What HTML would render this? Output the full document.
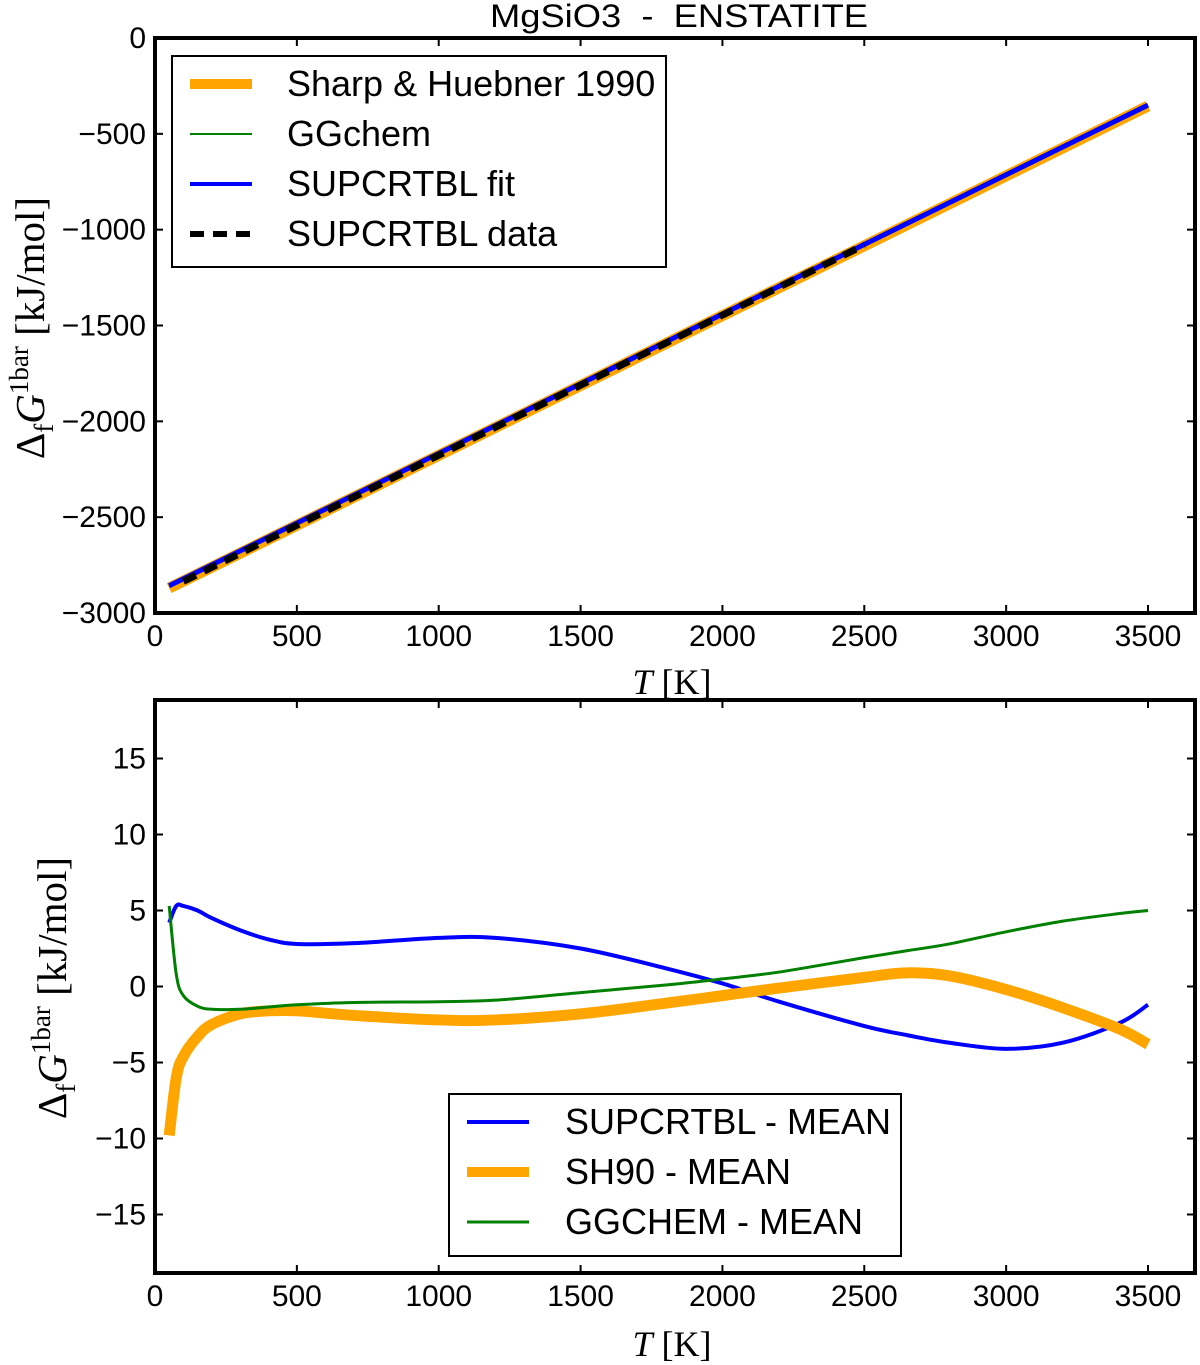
<!DOCTYPE html>
<html><head><meta charset="utf-8"><style>
body{margin:0;background:#fff}
svg{display:block}
text{font-family:"Liberation Sans",sans-serif;font-size:30px;fill:#000}
.serif{font-family:"Liberation Serif",serif;font-size:36px}
.ylab{font-family:"Liberation Serif",serif;font-size:41px}
</style></head><body>
<svg id="s" width="1200" height="1365" xmlns="http://www.w3.org/2000/svg">
<text x="679" y="27" text-anchor="middle" textLength="378" lengthAdjust="spacingAndGlyphs" style="white-space:pre;font-size:32px">MgSiO3  -  ENSTATITE</text>
<g id="top"></g>
<g id="bot"></g>
</svg>
<script>
const xTicks=[0,500,1000,1500,2000,2500,3000,3500];
const topYTicks=[0,-500,-1000,-1500,-2000,-2500,-3000];
const botYTicks=[15,10,5,0,-5,-10,-15];
const topT=[50,3500];
const sharpVals=[-2870,-355];
const ggVals=[-2862,-350];
const fitVals=[-2858,-350];
const dataT=[100,2500];
const dataVals=[-2835,-1080];
const devT=[50,75,100,150,200,300,400,500,700,1000,1200,1500,1800,2000,2200,2500,2650,2800,3000,3200,3400,3500];
const supVals=[4.2,5.3,5.3,5.0,4.5,3.7,3.1,2.8,2.85,3.2,3.2,2.5,1.2,0.2,-1.0,-2.6,-3.2,-3.7,-4.1,-3.7,-2.4,-1.2];
const shVals=[-9.8,-6,-4.6,-3.3,-2.5,-1.8,-1.6,-1.6,-1.9,-2.2,-2.2,-1.8,-1.1,-0.6,-0.1,0.6,0.9,0.7,-0.2,-1.4,-2.8,-3.8];
const ggDevVals=[5.3,0.8,-0.6,-1.3,-1.5,-1.5,-1.35,-1.2,-1.05,-1.0,-0.9,-0.4,0.1,0.5,0.95,1.9,2.35,2.8,3.6,4.3,4.8,5.0];
const NS='http://www.w3.org/2000/svg';
function mk(p,t,a){const e=document.createElementNS(NS,t);for(const k in a)e.setAttribute(k,a[k]);p.appendChild(e);return e;}
const L=155,R=1195;
const X=t=>L+t*(1148-L)/3500;
function panel(g,top,bot,ymin,ymax,yt){
  const Y=v=>bot-(v-ymin)/(ymax-ymin)*(bot-top);
  xTicks.forEach(t=>{
    let l=mk(g,'line',{x1:X(t),x2:X(t),y1:bot,y2:bot-8,stroke:'#000','stroke-width':2});
    
    mk(g,'line',{x1:X(t),x2:X(t),y1:top,y2:top+8,stroke:'#000','stroke-width':2});
    let tx=mk(g,'text',{x:X(t),y:bot+33,'text-anchor':'middle'});tx.textContent=t;
    
  });
  yt.forEach(v=>{
    let l=mk(g,'line',{x1:L,x2:L+8,y1:Y(v),y2:Y(v),stroke:'#000','stroke-width':2});
    
    mk(g,'line',{x1:R-8,x2:R,y1:Y(v),y2:Y(v),stroke:'#000','stroke-width':2});
    let tx=mk(g,'text',{x:L-9,y:Y(v)+10,'text-anchor':'end'});tx.textContent=String(v).replace('-','\u2212');
    
  });
  return Y;
}
function line(g,T,V,Y,color,w,name,dash){
  const P=T.map((t,i)=>[X(t),Y(V[i])]);
  let d='M'+P[0][0]+','+P[0][1];
  for(let i=0;i<P.length-1;i++){
    const p0=P[Math.max(0,i-1)],p1=P[i],p2=P[i+1],p3=P[Math.min(P.length-1,i+2)];
    const c1=[p1[0]+(p2[0]-p0[0])/6,p1[1]+(p2[1]-p0[1])/6],c2=[p2[0]-(p3[0]-p1[0])/6,p2[1]-(p3[1]-p1[1])/6];
    d+=` C${c1[0]},${c1[1]} ${c2[0]},${c2[1]} ${p2[0]},${p2[1]}`;
  }
  const p=mk(g,'path',{d,fill:'none',stroke:color,'stroke-width':w,'stroke-linejoin':'round'});
  if(dash)p.setAttribute('stroke-dasharray',dash);
  
}
function frame(g,top,bot){const r=mk(g,'rect',{x:L,y:top,width:R-L,height:bot-top,fill:'none',stroke:'#000','stroke-width':4});
  }
function ylabel(g,cx,cy){const t=mk(g,'text',{x:0,y:0,class:'ylab',transform:`translate(${cx},${cy}) rotate(-90)`,'text-anchor':'middle'});
  t.innerHTML='Δ<tspan style="font-size:27px" dy="9">f</tspan><tspan font-style="italic" dy="-9">G</tspan><tspan style="font-size:27px" dy="-16">1bar</tspan><tspan dy="16"> [kJ/mol]</tspan>';
  }
function xlabel(g,y){const t=mk(g,'text',{x:672,y:y,class:'serif','text-anchor':'middle'});
  t.innerHTML='<tspan font-style="italic">T</tspan> [K]';}
function legend(g,x,y,w,h,items,lx,tx,step,fs){
  const b=mk(g,'rect',{x,y,width:w,height:h,fill:'#fff',stroke:'#000','stroke-width':2});
  
  items.forEach((it,i)=>{const yy=y+28+i*step;
    const l=mk(g,'line',{x1:lx,x2:lx+62,y1:yy,y2:yy,stroke:it[1],'stroke-width':it[2]});if(it[3])l.setAttribute('stroke-dasharray',it[3]);
    
    const t=mk(g,'text',{x:tx,y:yy+12,style:'font-size:'+fs+'px'});t.textContent=it[0];
    });
}
const gt=document.getElementById('top');
const Yt=panel(gt,38,613,-3000,0,topYTicks);
line(gt,topT,sharpVals,Yt,'orange',11,'sharp-huebner-line');
line(gt,topT,ggVals,Yt,'green',2,'ggchem-line');
line(gt,topT,fitVals,Yt,'blue',5,'supcrtbl-fit-line');
line(gt,dataT,dataVals,Yt,'#000',7,'supcrtbl-data-line','14,9');
frame(gt,38,613);ylabel(gt,44,328);xlabel(gt,694);
legend(gt,172,56,494,211,[['Sharp & Huebner 1990','orange',10],['GGchem','green',2],['SUPCRTBL fit','blue',4],['SUPCRTBL data','#000',6,'14,9']],190,287,50,36);
const gb=document.getElementById('bot');
const Yb=panel(gb,700,1273,-18.85,18.85,botYTicks);
line(gb,devT,supVals,Yb,'blue',4,'supcrtbl-mean-line');
line(gb,devT,shVals,Yb,'orange',11,'sh90-mean-line');
line(gb,devT,ggDevVals,Yb,'green',3,'ggchem-mean-line');
frame(gb,700,1273);ylabel(gb,66,988);xlabel(gb,1356);
legend(gb,449,1094,452,162,[['SUPCRTBL - MEAN','blue',4],['SH90 - MEAN','orange',10],['GGCHEM - MEAN','green',3]],467,565,50,36);
</script>
</body></html>
